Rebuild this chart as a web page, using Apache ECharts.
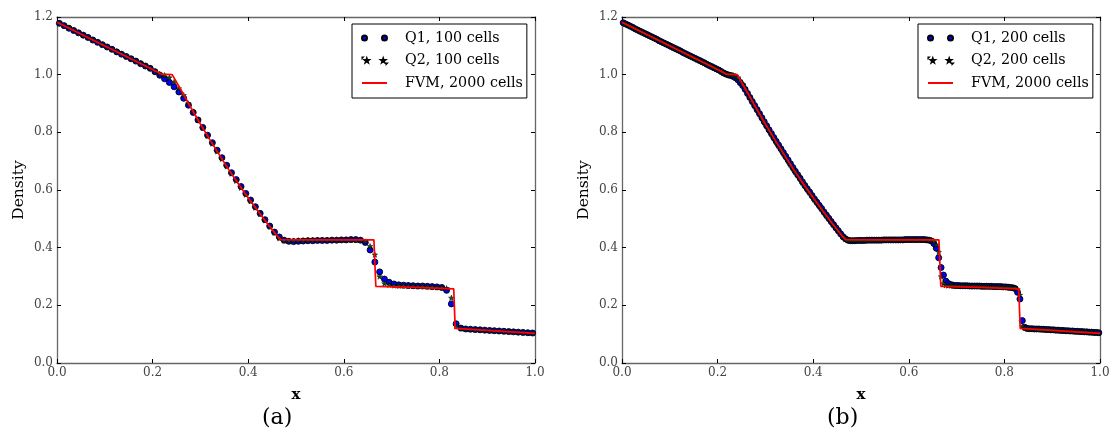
<!DOCTYPE html>
<html>
<head>
<meta charset="utf-8">
<script src="https://cdn.jsdelivr.net/npm/echarts@6/dist/echarts.min.js"></script>
<style>
html,body{margin:0;padding:0;background:#fff;}
#chart{width:1119px;height:443px;}
</style>
</head>
<body>
<div id="chart"></div>
<script>
// ---------------- data ----------------
const xTicks = [0.0, 0.2, 0.4, 0.6, 0.8, 1.0];
const yTicks = [0.0, 0.2, 0.4, 0.6, 0.8, 1.0, 1.2];

const nCellsA = 100;
const nCellsB = 200;

// reference FVM solution (2000 cells), vertices of the polyline
const fvmX = [0, 0.2, 0.218, 0.241, 0.26, 0.28, 0.30, 0.32, 0.34, 0.36, 0.38, 0.40, 0.42, 0.44, 0.46, 0.468, 0.55, 0.663, 0.667, 0.75, 0.830, 0.833, 1.0];
const fvmY = [1.182, 1.018, 1.002, 1.0, 0.945, 0.886, 0.829, 0.774, 0.721, 0.669, 0.620, 0.573, 0.528, 0.484, 0.442, 0.428, 0.427, 0.427, 0.266, 0.262, 0.257, 0.120, 0.103];

// (a) Q1, 100 cells
const q1A = [
1.178,1.170,1.161,1.153,1.145,1.137,1.129,1.120,1.112,1.104,
1.096,1.088,1.079,1.071,1.063,1.055,1.047,1.038,1.030,1.022,
1.010,0.998,0.986,0.973,0.958,0.940,0.918,0.894,0.869,0.843,
0.817,0.790,0.764,0.738,0.712,0.686,0.660,0.636,0.612,0.588,
0.565,0.542,0.519,0.497,0.475,0.454,0.437,0.426,0.422,0.421,
0.422,0.423,0.424,0.424,0.425,0.425,0.425,0.426,0.426,0.427,
0.427,0.428,0.428,0.426,0.418,0.392,0.350,0.316,0.291,0.280,
0.274,0.271,0.270,0.269,0.268,0.267,0.267,0.266,0.265,0.264,
0.262,0.252,0.205,0.136,0.121,0.118,0.117,0.116,0.115,0.114,
0.113,0.112,0.111,0.110,0.109,0.108,0.107,0.106,0.105,0.104
];
// (a) Q2, 100 cells
const q2A = [
1.179,1.171,1.163,1.155,1.146,1.138,1.130,1.122,1.113,1.105,
1.097,1.089,1.081,1.072,1.064,1.056,1.048,1.040,1.031,1.023,
1.013,1.003,0.998,0.990,0.975,0.952,0.929,0.900,0.872,0.843,
0.815,0.788,0.761,0.734,0.708,0.682,0.657,0.632,0.608,0.584,
0.561,0.539,0.517,0.495,0.473,0.452,0.433,0.425,0.424,0.424,
0.425,0.425,0.426,0.426,0.426,0.426,0.427,0.427,0.427,0.427,
0.428,0.428,0.427,0.426,0.421,0.405,0.376,0.300,0.276,0.271,
0.269,0.268,0.268,0.267,0.267,0.266,0.266,0.265,0.264,0.263,
0.262,0.259,0.226,0.128,0.120,0.118,0.117,0.116,0.115,0.114,
0.113,0.112,0.111,0.110,0.109,0.108,0.107,0.106,0.105,0.104
];
// (b) Q1, 200 cells
const q1B = [
1.180,1.176,1.172,1.168,1.164,1.159,1.155,1.151,1.147,1.143,
1.139,1.135,1.131,1.127,1.123,1.118,1.114,1.110,1.106,1.102,
1.098,1.094,1.090,1.086,1.082,1.077,1.073,1.069,1.065,1.061,
1.057,1.053,1.049,1.045,1.041,1.036,1.032,1.028,1.024,1.020,
1.016,1.011,1.006,1.002,0.999,0.997,0.994,0.989,0.982,0.972,
0.962,0.949,0.935,0.921,0.907,0.893,0.879,0.865,0.851,0.837,
0.823,0.809,0.796,0.782,0.769,0.756,0.743,0.730,0.717,0.704,
0.691,0.678,0.665,0.653,0.641,0.628,0.616,0.604,0.593,0.581,
0.569,0.558,0.547,0.536,0.524,0.513,0.502,0.491,0.480,0.469,
0.459,0.448,0.438,0.431,0.426,0.424,0.424,0.424,0.425,0.425,
0.425,0.425,0.426,0.426,0.426,0.426,0.426,0.426,0.426,0.427,
0.427,0.427,0.427,0.427,0.427,0.427,0.427,0.427,0.428,0.428,
0.428,0.428,0.428,0.428,0.428,0.428,0.428,0.427,0.426,0.423,
0.414,0.398,0.365,0.331,0.305,0.284,0.276,0.272,0.270,0.269,
0.269,0.268,0.268,0.268,0.268,0.267,0.267,0.267,0.267,0.267,
0.266,0.266,0.266,0.266,0.266,0.265,0.265,0.265,0.265,0.264,
0.264,0.263,0.262,0.261,0.258,0.245,0.222,0.147,0.124,0.120,
0.119,0.119,0.118,0.118,0.118,0.117,0.117,0.116,0.116,0.115,
0.115,0.114,0.114,0.113,0.113,0.112,0.112,0.111,0.111,0.110,
0.110,0.109,0.109,0.108,0.108,0.107,0.107,0.106,0.106,0.105
];
// (b) Q2, 200 cells
const q2B = [
1.180,1.176,1.172,1.168,1.164,1.160,1.156,1.151,1.147,1.143,
1.139,1.135,1.131,1.127,1.123,1.119,1.115,1.110,1.106,1.102,
1.098,1.094,1.090,1.086,1.082,1.078,1.074,1.069,1.065,1.061,
1.057,1.053,1.049,1.045,1.041,1.037,1.033,1.028,1.024,1.020,
1.016,1.012,1.007,1.003,1.000,0.999,0.998,0.995,0.990,0.979,
0.966,0.951,0.937,0.922,0.907,0.892,0.878,0.864,0.849,0.835,
0.821,0.807,0.794,0.780,0.766,0.753,0.740,0.727,0.714,0.701,
0.688,0.675,0.663,0.651,0.639,0.626,0.614,0.602,0.591,0.579,
0.567,0.556,0.545,0.534,0.522,0.511,0.500,0.490,0.479,0.468,
0.458,0.447,0.438,0.430,0.427,0.426,0.426,0.426,0.426,0.426,
0.426,0.426,0.426,0.426,0.426,0.427,0.427,0.427,0.427,0.427,
0.427,0.427,0.427,0.427,0.427,0.427,0.427,0.427,0.428,0.428,
0.428,0.428,0.428,0.428,0.428,0.428,0.428,0.428,0.427,0.426,
0.422,0.410,0.385,0.300,0.276,0.270,0.269,0.269,0.268,0.268,
0.268,0.268,0.268,0.268,0.267,0.267,0.267,0.267,0.267,0.266,
0.266,0.266,0.266,0.266,0.265,0.265,0.265,0.265,0.264,0.264,
0.263,0.263,0.262,0.261,0.261,0.255,0.236,0.128,0.121,0.120,
0.119,0.119,0.118,0.118,0.118,0.117,0.117,0.116,0.116,0.115,
0.115,0.114,0.114,0.113,0.113,0.112,0.112,0.111,0.111,0.110,
0.110,0.109,0.109,0.108,0.108,0.107,0.107,0.106,0.106,0.105
];

// ---------------- helpers ----------------
// mesh: cell centres of a uniform grid on [0,1]
function cellCentres(n) { return Array.from({length: n}, (_, i) => (i + 0.5) / n); }
function zip(xs, ys) { return xs.map((x, i) => [x, ys[i]]); }

const FONT = 'DejaVu Serif';
const STAR = 'path://M0,-10L2.35,-3.24L9.51,-3.09L3.8,1.24L5.88,8.09L0,4L-5.88,8.09L-3.8,1.24L-9.51,-3.09L-2.35,-3.24Z';
const TWO_CIRCLES = 'path://M0,2.5A2.5,2.5 0 1,0 5,2.5A2.5,2.5 0 1,0 0,2.5ZM20,2.5A2.5,2.5 0 1,0 25,2.5A2.5,2.5 0 1,0 20,2.5Z';
// two small stars, with tiny sub-pixel anchors that widen the bounding box so the stars stay small
const TWO_STARS = 'path://M0,-0.6L0.02,-0.6L0,-0.58ZM25,5.6L25.02,5.6L25,5.62Z' +
  'M4.5,0.6L4.97,1.97L6.43,1.99L5.26,2.86L5.69,4.26L4.5,3.43L3.31,4.26L3.74,2.86L2.57,1.99L4.03,1.97Z' +
  'M21.5,0.6L21.97,1.97L23.43,1.99L22.26,2.86L22.69,4.26L21.5,3.43L20.31,4.26L20.74,2.86L19.57,1.99L21.03,1.97Z';

function xAxes(g) {
  const common = {
    gridIndex: g, type: 'value', min: 0, max: 1, interval: 0.2,
    splitLine: {show: false},
    axisLine: {onZero: false, lineStyle: {color: '#666', width: 1.3}},
    axisTick: {inside: true, length: 4, lineStyle: {color: '#000', width: 1}},
  };
  return [
    Object.assign({}, common, {
      position: 'bottom',
      axisLabel: {formatter: v => v.toFixed(1), color: '#444', fontFamily: FONT, fontSize: 12, margin: 4},
      name: 'x', nameLocation: 'middle', nameGap: 25,
      nameTextStyle: {fontFamily: FONT, fontSize: 15, fontWeight: 'bold', color: '#000'}
    }),
    Object.assign({}, common, {position: 'top', axisLabel: {show: false}})
  ];
}
function yAxes(g) {
  const common = {
    gridIndex: g, type: 'value', min: 0, max: 1.2, interval: 0.2,
    splitLine: {show: false},
    axisLine: {onZero: false, lineStyle: {color: '#666', width: 1.3}},
    axisTick: {inside: true, length: 4, lineStyle: {color: '#000', width: 1}},
  };
  return [
    Object.assign({}, common, {
      position: 'left',
      axisLabel: {formatter: v => v.toFixed(1), color: '#444', fontFamily: FONT, fontSize: 12, margin: 4},
      name: 'Density', nameLocation: 'middle', nameGap: 30, nameRotate: 90,
      nameTextStyle: {fontFamily: FONT, fontSize: 15.5, color: '#000'}
    }),
    Object.assign({}, common, {position: 'right', axisLabel: {show: false}})
  ];
}

function seriesFor(g, n, q1, q2, q1Name, q2Name) {
  const xs = cellCentres(n);
  return [
    {
      name: q1Name, type: 'scatter', xAxisIndex: 2 * g, yAxisIndex: 2 * g,
      data: zip(xs, q1), symbol: 'circle', symbolSize: 6, z: 2,
      itemStyle: {color: '#0000ff', borderColor: '#000', borderWidth: 0.9, opacity: 1}
    },
    {
      name: q2Name, type: 'scatter', xAxisIndex: 2 * g, yAxisIndex: 2 * g,
      data: zip(xs, q2), symbol: STAR, symbolSize: 5.5, z: 3,
      itemStyle: {color: '#0d4d0d', borderColor: '#000', borderWidth: 0.5, opacity: 1}
    },
    {
      name: 'FVM, 2000 cells', type: 'line', xAxisIndex: 2 * g, yAxisIndex: 2 * g,
      data: zip(fvmX, fvmY), symbol: 'none', z: 4,
      lineStyle: {color: '#ff0000', width: 1.7}, itemStyle: {color: '#ff0000'}
    }
  ];
}

function legendAt(left, q1Name, q2Name) {
  return {
    left: left, top: 24, orient: 'vertical',
    backgroundColor: '#fff', borderColor: '#000', borderWidth: 1, borderRadius: 0,
    padding: [5, 4, 6, 9], itemGap: 4.5, itemWidth: 25, itemHeight: 6,
    selectedMode: false,
    textStyle: {fontFamily: FONT, fontSize: 14.3, color: '#000', lineHeight: 18, padding: [0, 0, 0, 13]},
    data: [
      {name: q1Name, icon: TWO_CIRCLES},
      {name: q2Name, icon: TWO_STARS},
      {name: 'FVM, 2000 cells', itemStyle: {color: 'rgba(0,0,0,0)', borderColor: 'rgba(0,0,0,0)', borderWidth: 0}}
    ]
  };
}

const chart = echarts.init(document.getElementById('chart'), null, {renderer: 'canvas'});
chart.setOption({
  animation: false,
  backgroundColor: '#fff',
  grid: [
    {left: 57, top: 17, width: 478, bottom: 80},
    {left: 622, top: 17, width: 478, bottom: 80}
  ],
  xAxis: xAxes(0).concat(xAxes(1)),
  yAxis: yAxes(0).concat(yAxes(1)),
  legend: [
    legendAt(352, 'Q1, 100 cells', 'Q2, 100 cells'),
    legendAt(918, 'Q1, 200 cells', 'Q2, 200 cells')
  ],
  graphic: [
    {type: 'text', left: 262, top: 407, style: {text: '(a)', font: '22px "DejaVu Serif"', fill: '#000'}},
    {type: 'text', left: 827, top: 407, style: {text: '(b)', font: '22px "DejaVu Serif"', fill: '#000'}}
  ],
  series: seriesFor(0, nCellsA, q1A, q2A, 'Q1, 100 cells', 'Q2, 100 cells')
    .concat(seriesFor(1, nCellsB, q1B, q2B, 'Q1, 200 cells', 'Q2, 200 cells'))
});
</script>
</body>
</html>
